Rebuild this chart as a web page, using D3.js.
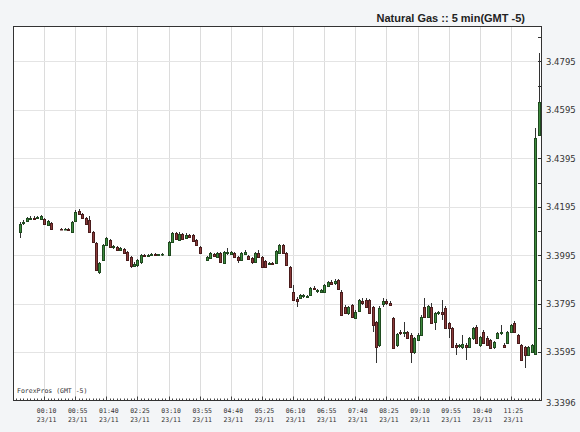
<!DOCTYPE html>
<html><head><meta charset="utf-8">
<script src="https://cdn.jsdelivr.net/npm/d3@7"></script>
<style>html,body{margin:0;padding:0;background:#f3f5f7;}svg{display:block;}</style>
</head><body>
<svg id="chart" width="580" height="432"></svg>
<script>
// ---------- data ----------
const times = [
"23:35","23:40","23:45","23:50","23:55","00:00","00:05","00:10","00:15","00:20",
"00:35","00:40","00:45","00:50","00:55","01:00","01:05","01:10","01:15","01:20",
"01:25","01:30","01:35","01:40","01:45","01:50","01:55","02:00","02:05","02:10",
"02:15","02:20","02:25","02:30","02:35","02:40","02:45","02:50","02:55","03:00",
"03:10","03:15","03:20","03:25","03:30","03:35","03:40","03:45","03:50","03:55",
"04:05","04:10","04:15","04:20","04:25","04:30","04:35","04:40","04:45","04:50",
"04:55","05:00","05:05","05:10","05:15","05:20","05:25","05:30","05:35","05:40",
"05:45","05:50","05:55","06:00","06:05","06:10","06:15","06:20","06:25","06:30",
"06:35","06:40","06:45","06:50","06:55","07:00","07:05","07:10","07:15","07:20",
"07:25","07:30","07:35","07:40","07:45","07:50","07:55","08:00","08:05","08:10",
"08:15","08:20","08:25","08:30","08:35","08:40","08:45","08:50","08:55","09:00",
"09:05","09:10","09:15","09:20","09:25","09:30","09:35","09:40","09:45","09:50",
"09:55","10:00","10:05","10:10","10:15","10:20","10:25","10:30","10:35","10:40",
"10:45","10:50","10:55","11:00","11:05","11:10","11:15","11:20","11:25","11:30",
"11:35","11:40","11:45","11:50","11:55","12:00","12:05"
];
const open = [
3.4092,3.4129,3.4137,3.4146,3.4150,3.4150,3.4146,3.4146,3.4121,3.4129,
3.4104,3.4102,3.4104,3.4092,3.4137,3.4179,3.4166,3.4150,3.4141,3.4092,
3.4046,3.3927,3.3976,3.4038,3.4059,3.4030,3.4030,3.4018,3.4022,3.4009,
3.3989,3.3952,3.3956,3.3968,3.3997,3.3993,3.3997,3.4001,3.3997,3.3999,
3.3997,3.4051,3.4088,3.4059,3.4084,3.4067,3.4080,3.4080,3.4059,3.4030,
3.3976,3.3985,3.4001,3.3989,3.4005,3.3964,3.4005,3.4001,3.4005,3.3989,
3.3976,3.4001,3.3993,3.3985,3.3968,3.4005,3.3989,3.3972,3.3960,3.3964,
3.3964,3.4005,3.4038,3.4005,3.3948,3.3845,3.3816,3.3820,3.3828,3.3824,
3.3832,3.3861,3.3849,3.3845,3.3845,3.3869,3.3886,3.3882,3.3894,3.3845,
3.3783,3.3758,3.3791,3.3738,3.3766,3.3808,3.3812,3.3812,3.3783,3.3721,
3.3626,3.3795,3.3808,3.3800,3.3738,3.3626,3.3680,3.3676,3.3680,3.3667,
3.3597,3.3647,3.3667,3.3783,3.3742,3.3783,3.3721,3.3758,3.3762,3.3779,
3.3717,3.3696,3.3626,3.3622,3.3618,3.3626,3.3618,3.3655,3.3700,3.3626,
3.3680,3.3655,3.3647,3.3618,3.3655,3.3676,3.3626,3.3634,3.3680,3.3717,
3.3667,3.3626,3.3618,3.3585,3.3597,3.3589,3.4492
];
const high = [
3.4133,3.4141,3.4154,3.4158,3.4158,3.4158,3.4162,3.4150,3.4141,3.4133,
3.4108,3.4106,3.4106,3.4137,3.4183,3.4187,3.4171,3.4154,3.4158,3.4096,
3.4051,3.3968,3.4042,3.4071,3.4063,3.4038,3.4034,3.4030,3.4026,3.4013,
3.3993,3.3968,3.3981,3.4001,3.4001,3.4001,3.4005,3.4005,3.4001,3.4005,
3.4055,3.4092,3.4092,3.4092,3.4088,3.4088,3.4084,3.4084,3.4063,3.4034,
3.3993,3.4009,3.4005,3.4009,3.4009,3.4013,3.4026,3.4013,3.4009,3.3993,
3.4009,3.4018,3.3997,3.3989,3.4009,3.4018,3.3993,3.3976,3.3968,3.3968,
3.4018,3.4042,3.4042,3.4009,3.3952,3.3873,3.3824,3.3836,3.3836,3.3832,
3.3865,3.3869,3.3857,3.3857,3.3878,3.3890,3.3894,3.3898,3.3898,3.3853,
3.3791,3.3787,3.3795,3.3770,3.3816,3.3820,3.3820,3.3816,3.3787,3.3725,
3.3787,3.3820,3.3816,3.3808,3.3742,3.3676,3.3688,3.3721,3.3684,3.3676,
3.3659,3.3676,3.3750,3.3820,3.3791,3.3800,3.3762,3.3766,3.3812,3.3787,
3.3721,3.3700,3.3634,3.3630,3.3667,3.3634,3.3659,3.3700,3.3709,3.3663,
3.3688,3.3663,3.3651,3.3643,3.3680,3.3709,3.3634,3.3684,3.3713,3.3725,
3.3671,3.3630,3.3622,3.3622,3.3630,3.4521,3.4830
];
const low = [
3.4067,3.4121,3.4133,3.4141,3.4141,3.4146,3.4141,3.4121,3.4117,3.4100,
3.4100,3.4100,3.4098,3.4088,3.4133,3.4162,3.4146,3.4121,3.4088,3.4046,
3.3931,3.3919,3.3972,3.4034,3.4026,3.4022,3.4013,3.4013,3.4001,3.3972,
3.3943,3.3948,3.3948,3.3960,3.3989,3.3989,3.3993,3.3993,3.3993,3.3993,
3.3993,3.4046,3.4059,3.4055,3.4059,3.4063,3.4067,3.4051,3.4034,3.4001,
3.3972,3.3981,3.3989,3.3985,3.3964,3.3960,3.3997,3.3997,3.3985,3.3964,
3.3972,3.3997,3.3976,3.3960,3.3964,3.3985,3.3943,3.3943,3.3956,3.3956,
3.3960,3.4001,3.4001,3.3952,3.3861,3.3808,3.3783,3.3816,3.3820,3.3820,
3.3828,3.3853,3.3841,3.3840,3.3841,3.3865,3.3874,3.3874,3.3853,3.3745,
3.3754,3.3750,3.3738,3.3733,3.3762,3.3791,3.3779,3.3754,3.3680,3.3552,
3.3618,3.3783,3.3791,3.3787,3.3610,3.3618,3.3667,3.3659,3.3651,3.3552,
3.3588,3.3643,3.3663,3.3738,3.3738,3.3713,3.3688,3.3750,3.3729,3.3692,
3.3655,3.3614,3.3585,3.3614,3.3610,3.3564,3.3614,3.3647,3.3630,3.3618,
3.3630,3.3622,3.3610,3.3610,3.3651,3.3667,3.3614,3.3630,3.3676,3.3676,
3.3630,3.3564,3.3531,3.3580,3.3593,3.3585,3.4488
];
const close = [
3.4125,3.4133,3.4150,3.4150,3.4146,3.4154,3.4158,3.4125,3.4137,3.4104,
3.4102,3.4104,3.4100,3.4133,3.4175,3.4166,3.4150,3.4125,3.4092,3.4051,
3.3935,3.3964,3.4038,3.4067,3.4030,3.4034,3.4018,3.4026,3.4005,3.3976,
3.3952,3.3960,3.3976,3.3997,3.3993,3.3997,3.4001,3.3997,3.3999,3.4001,
3.4051,3.4088,3.4063,3.4084,3.4063,3.4080,3.4071,3.4055,3.4038,3.4005,
3.3989,3.4005,3.3993,3.4005,3.3968,3.4009,3.4009,3.4009,3.3989,3.3976,
3.4005,3.4009,3.3981,3.3968,3.4005,3.3989,3.3948,3.3948,3.3964,3.3960,
3.4013,3.4038,3.4005,3.3956,3.3865,3.3812,3.3808,3.3832,3.3832,3.3828,
3.3861,3.3857,3.3853,3.3853,3.3873,3.3886,3.3878,3.3890,3.3857,3.3750,
3.3758,3.3783,3.3742,3.3762,3.3812,3.3800,3.3783,3.3758,3.3709,3.3618,
3.3779,3.3808,3.3800,3.3791,3.3614,3.3672,3.3676,3.3680,3.3655,3.3597,
3.3655,3.3667,3.3742,3.3742,3.3787,3.3717,3.3758,3.3762,3.3754,3.3696,
3.3696,3.3618,3.3618,3.3626,3.3630,3.3618,3.3655,3.3696,3.3634,3.3659,
3.3634,3.3626,3.3614,3.3639,3.3676,3.3680,3.3618,3.3680,3.3709,3.3680,
3.3634,3.3564,3.3585,3.3618,3.3626,3.4480,3.4628
];
const xTickLabels = ["00:10","00:55","01:40","02:25","03:10","03:55","04:40","05:25","06:10","06:55","07:40","08:25","09:10","09:55","10:40","11:25"];
const xTickDate = "23/11";
const yTickLabels = [3.3396,3.3595,3.3795,3.3995,3.4195,3.4395,3.4595,3.4795];
const yMinorTicks = [3.3695,3.3895,3.4095,3.4295,3.4495,3.4695,3.4895];
const yDomain = [3.3396,3.4941];
const xDomain = ["22/11 23:25","23/11 12:10"];
const title = "Natural Gas :: 5 min(GMT -5)";
const sourceNote = "ForexPros (GMT -5)";

// ---------- layout ----------
const L = 13, R = 542, T = 26, B = 400.5;
const svg = d3.select("#chart");
const parse = d3.timeParse("%d/%m %H:%M");
const dayOf = t => (+t.slice(0,2) >= 23 ? "22/11 " : xTickDate + " ");

const x = d3.scaleTime().domain(xDomain.map(parse)).range([L, R]);
const y = d3.scaleLinear().domain(yDomain).range([B, T]);

const data = times.map((t,i) => ({t: parse(dayOf(t)+t), o: open[i], h: high[i], l: low[i], c: close[i]}));

svg.append("rect").attr("width",580).attr("height",432).attr("fill","#f3f5f7");
svg.append("rect").attr("x",L).attr("y",T).attr("width",R-L).attr("height",B-T).attr("fill","#fff");

// gridlines
const xTickDates = xTickLabels.map(s => parse(xTickDate+" "+s));
svg.append("g").selectAll("line").data(xTickDates).join("line")
  .attr("x1",d=>Math.round(x(d))+0.5).attr("x2",d=>Math.round(x(d))+0.5)
  .attr("y1",T).attr("y2",B).attr("stroke","#dcdcdc").attr("stroke-width",1);
svg.append("g").selectAll("line").data(yTickLabels.slice(1)).join("line")
  .attr("x1",L).attr("x2",R).attr("y1",d=>Math.round(y(d))+0.5).attr("y2",d=>Math.round(y(d))+0.5)
  .attr("stroke","#e4e4e4").attr("stroke-width",1);

// right axis
const yAxis = d3.axisRight(y).tickValues(yTickLabels).tickSize(0).tickPadding(4).tickFormat(d3.format(".4f"));
const gy = svg.append("g").attr("transform",`translate(${R},0)`).call(yAxis);
gy.select(".domain").remove();
gy.selectAll("text").attr("font-family","DejaVu Sans, Verdana, sans-serif").attr("font-size","8.5px").attr("fill","#333");
gy.selectAll(".tick").filter(d=>d===yTickLabels[0]).select("text").attr("dy","0.6em");
svg.append("g").selectAll("line").data(yTickLabels.slice(1).concat(yMinorTicks)).join("line")
  .attr("x1",R-4).attr("x2",R).attr("y1",d=>Math.round(y(d))+0.5).attr("y2",d=>Math.round(y(d))+0.5)
  .attr("stroke","#333");

// bottom axis minor ticks (every 5 min)
const minorTimes = d3.timeMinute.every(5).range(x.domain()[0], x.domain()[1]);
svg.append("g").selectAll("line").data(minorTimes).join("line")
  .attr("x1",d=>Math.round(x(d))+0.5).attr("x2",d=>Math.round(x(d))+0.5)
  .attr("y1",B-2).attr("y2",B).attr("stroke","#444");
svg.append("g").selectAll("line").data(xTickDates).join("line")
  .attr("x1",d=>Math.round(x(d))+0.5).attr("x2",d=>Math.round(x(d))+0.5)
  .attr("y1",B-4).attr("y2",B).attr("stroke","#444");

// bottom axis labels
const xAxis = d3.axisBottom(x).tickValues(xTickDates).tickSize(0).tickFormat(()=> "");
const gx = svg.append("g").attr("transform",`translate(0,${B})`).call(xAxis);
gx.select(".domain").remove();
gx.selectAll(".tick text").remove();
const ticksG = gx.selectAll(".tick");
ticksG.append("text").attr("x",2).attr("y",12.5).attr("text-anchor","middle")
  .attr("font-family","DejaVu Sans Mono, monospace").attr("font-size","6.5px").attr("fill","#333")
  .text((d,i)=>xTickLabels[i]);
ticksG.append("text").attr("x",2).attr("y",21).attr("text-anchor","middle")
  .attr("font-family","DejaVu Sans Mono, monospace").attr("font-size","6.5px").attr("fill","#333")
  .text(xTickDate);

// frame
svg.append("rect").attr("x",L+0.5).attr("y",T+0.5).attr("width",R-L-1).attr("height",B-T-0.5)
  .attr("fill","none").attr("stroke","#333").attr("stroke-width",1);

// candles
const cg = svg.append("g");
const cs = cg.selectAll("g").data(data).join("g");
cs.append("line")
  .attr("x1",d=>Math.round(x(d.t))+0.5).attr("x2",d=>Math.round(x(d.t))+0.5)
  .attr("y1",d=>Math.round(y(d.h))).attr("y2",d=>Math.round(y(d.l)))
  .attr("stroke","#333").attr("stroke-width",1);
cs.append("rect")
  .attr("x",d=>Math.round(x(d.t))-0.5)
  .attr("y",d=>Math.round(y(Math.max(d.o,d.c)))+0.5)
  .attr("width",2)
  .attr("height",d=>Math.max(0.5, Math.round(y(Math.min(d.o,d.c)))-Math.round(y(Math.max(d.o,d.c)))))
  .attr("fill",d=> d.c>=d.o ? "#3d8a3d" : "#8a3a3a")
  .attr("stroke",d=> d.c>=d.o ? "#1f4a1f" : "#4a1c1c").attr("stroke-width",1);

// texts
svg.append("text").attr("x",525).attr("y",22).attr("text-anchor","end")
  .attr("font-family","Liberation Sans, Arial, sans-serif").attr("font-weight","bold")
  .attr("font-size","11px").attr("fill","#222").text(title);
svg.append("text").attr("x",17).attr("y",392.5)
  .attr("font-family","DejaVu Sans Mono, monospace").attr("font-size","6.5px").attr("fill","#333")
  .text(sourceNote);
</script>
</body></html>
